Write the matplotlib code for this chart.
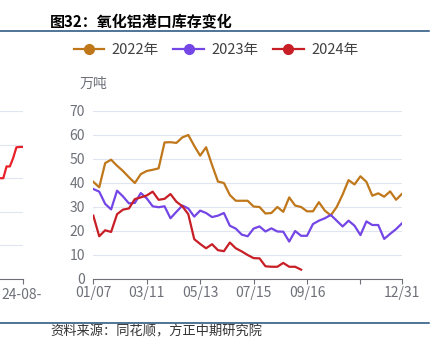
import matplotlib
matplotlib.use('Agg')
import numpy as np
import matplotlib.pyplot as plt
from matplotlib.lines import Line2D

plt.rcParams['font.family'] = ['Noto Sans CJK SC', 'DejaVu Sans']

# ── datos (万吨), semanas 01/07 … 12/31 ─────────────────────────────────────
y2022 = [40.5, 38.2, 48.3, 49.7, 47.2, 45.0, 42.4, 40.0, 43.7, 45.0,
         45.5, 46.1, 56.9, 57.0, 56.7, 59.0, 60.0, 55.5, 51.4, 54.9,
         47.5, 40.6, 40.0, 35.0, 32.6, 32.6, 32.6, 30.2, 30.0, 27.3,
         27.5, 30.0, 28.0, 34.0, 30.6, 30.0, 28.2, 28.2, 32.0, 28.5,
         26.5, 30.0, 35.2, 41.2, 39.4, 42.8, 40.5, 34.7, 35.7, 34.3,
         36.5, 33.0, 35.5]
y2023 = [37.5, 36.4, 31.3, 29.0, 36.8, 34.4, 31.5, 31.7, 35.8, 33.6,
         30.3, 29.9, 30.3, 25.3, 28.0, 30.6, 29.4, 26.0, 28.5, 27.5,
         25.8, 26.4, 27.5, 22.2, 21.0, 18.5, 17.8, 21.0, 21.9, 19.8,
         21.1, 19.8, 19.7, 15.6, 20.0, 18.0, 18.0, 22.9, 24.3, 25.3,
         26.7, 24.3, 21.9, 24.3, 22.2, 18.3, 24.0, 22.5, 22.5, 16.7,
         18.8, 20.8, 23.2]
y2024 = [26.4, 17.8, 20.3, 19.6, 27.0, 28.9, 29.4, 33.3, 34.0, 34.8,
         36.4, 33.0, 33.4, 35.4, 32.2, 30.3, 27.0, 16.6, 14.6, 12.8,
         14.5, 12.0, 11.6, 15.2, 12.8, 11.5, 10.0, 8.7, 8.6, 5.3,
         5.1, 5.1, 6.7, 5.1, 5.1, 3.9]

tick_pos    = [0, 9, 18, 27, 36, 45, 52]
tick_labels = ['01/07', '03/11', '05/13', '07/15', '09/16', '', '12/31']

# gráfico vecino (recortado a la izquierda)
left_vals = [3.0, 3.0, 3.35, 3.35, 3.6, 3.92, 3.93, 3.93]

# ── paleta ──────────────────────────────────────────────────────────────────
C22, C23, C24 = '#c0771a', '#7446e6', '#c81e26'
C_LEFT = '#e8202a'
C_GRID = '#e0e6f1'
C_AXIS = '#6e7079'
C_LINE = '#1f4e79'

W, H = 439, 358
fig = plt.figure(figsize=(W / 100, H / 100), dpi=100, facecolor='white')


def fx(px):
    return px / W


def fy(py):
    return 1 - py / H


# ── gráfico principal ───────────────────────────────────────────────────────
ax = fig.add_axes([fx(93.3), fy(279), fx(402) - fx(93.3), fy(111) - fy(279)])
x = np.arange(len(y2022))
ax.plot(x, y2022, color=C22, lw=1.6, zorder=3)
ax.plot(x, y2023, color=C23, lw=1.6, zorder=3)
ax.plot(np.arange(len(y2024)), y2024, color=C24, lw=1.6, zorder=4)

ax.set_xlim(0, 52)
ax.set_ylim(0, 70)
ax.set_yticks(range(0, 71, 10))
ax.grid(axis='y', color=C_GRID, lw=0.8)
ax.set_axisbelow(True)
for s in ['top', 'right', 'left']:
    ax.spines[s].set_visible(False)
ax.spines['bottom'].set_color(C_AXIS)
ax.spines['bottom'].set_linewidth(0.8)
ax.set_xticks(tick_pos)
ax.set_xticklabels(tick_labels)
ax.tick_params(axis='x', length=3.6, width=0.8, color=C_AXIS, pad=1.5,
               labelsize=10, labelcolor=C_AXIS)
ax.tick_params(axis='y', length=0, pad=6, labelsize=10, labelcolor=C_AXIS)
ax.text(0, 1.16, '万吨', transform=ax.transAxes, ha='center', va='center',
        fontsize=10, color=C_AXIS)

handles = [Line2D([], [], color=c, lw=1.6, marker='o', markersize=7)
           for c in (C22, C23, C24)]
fig.legend(handles, ['2022年', '2023年', '2024年'], loc='center',
           bbox_to_anchor=(fx(216), fy(50)), ncol=3, frameon=False,
           fontsize=10.5, handlelength=2.1, handletextpad=0.5,
           columnspacing=1.0, labelcolor='#404040')

# ── gráfico vecino recortado ────────────────────────────────────────────────
axl = fig.add_axes([0, fy(279), fx(23), fy(111) - fy(279)])
axl.plot(np.arange(len(left_vals)), left_vals, color=C_LEFT, lw=1.6)
axl.set_xlim(0, len(left_vals) - 1)
axl.set_ylim(0, 5)
axl.set_yticks(range(1, 6))
axl.grid(axis='y', color=C_GRID, lw=0.8)
axl.set_axisbelow(True)
for s in ['top', 'right', 'left']:
    axl.spines[s].set_visible(False)
axl.spines['bottom'].set_color(C_AXIS)
axl.spines['bottom'].set_linewidth(0.8)
axl.set_xticks([len(left_vals) - 1])
axl.set_xticklabels([''])
axl.tick_params(axis='x', length=3.6, width=0.8, color=C_AXIS)
axl.tick_params(axis='y', length=0, labelleft=False)
fig.text(fx(1), fy(295), '24-08-', ha='left', va='center',
         fontsize=10, color=C_AXIS)

# ── título, líneas y fuente ─────────────────────────────────────────────────
fig.text(fx(50), fy(21), '图32：氧化铝港口库存变化', ha='left', va='center',
         fontsize=10.8, fontweight='bold', color='black')
fig.add_artist(Line2D([0, fx(429)], [fy(31), fy(31)], color=C_LINE, lw=1.1))
fig.add_artist(Line2D([0, fx(429)], [fy(323), fy(323)], color=C_LINE, lw=1.1))
fig.text(fx(50), fy(332), '资料来源：同花顺，方正中期研究院', ha='left',
         va='center', fontsize=9.5, color='#333333')

fig.savefig('out.png', dpi=100, facecolor='white')
